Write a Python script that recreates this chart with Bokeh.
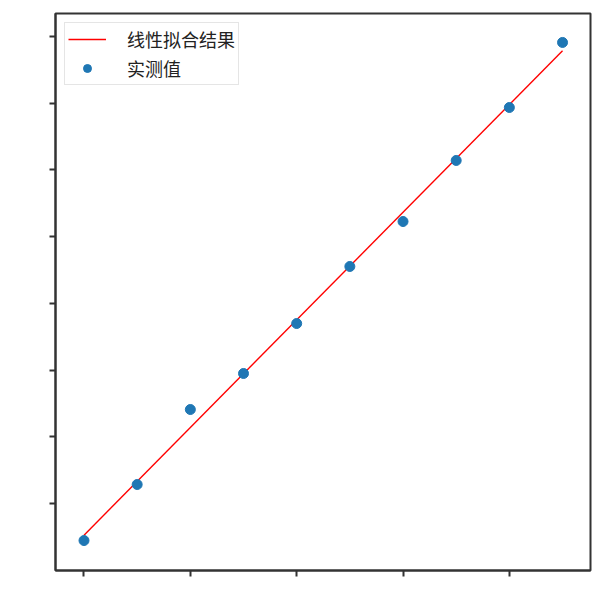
import numpy as np
from bokeh.plotting import figure
from bokeh.models import Range1d, FixedTicker, CustomJSTickFormatter, Legend, LegendItem
from bokeh.embed import file_html
from bokeh.resources import INLINE

# data
x_values = [0, 1, 2, 3, 4, 5, 6, 7, 8, 9]
y_measured = [-0.555, 0.285, 1.409, 1.949, 2.698, 3.553, 4.227, 5.142, 5.936, 6.911]
x_ticks = [0, 2, 4, 6, 8]
y_ticks = [0, 1, 2, 3, 4, 5, 6, 7]
fit_label = "线性拟合结果"
point_label = "实测值"

# linear fit of the measured values
k, b = np.polyfit(x_values, y_measured, 1)
x_fit = [x_values[0], x_values[-1]]
y_fit = [k * xv + b for xv in x_fit]

p = figure(width=600, height=592, output_backend="svg", toolbar_location=None,
           x_range=Range1d(-0.536, 9.526), y_range=Range1d(-1.004, 7.345),
           min_border_left=55, min_border_top=13, min_border_right=10, min_border_bottom=22)
p.background_fill_color = "white"
p.border_fill_color = "white"
p.outline_line_color = "#333333"
p.outline_line_width = 2
p.xgrid.visible = False
p.ygrid.visible = False

for ax in (p.xaxis, p.yaxis):
    ax.axis_line_color = "#333333"
    ax.axis_line_width = 2
    ax.major_tick_line_color = "#333333"
    ax.major_tick_line_width = 2
    ax.major_tick_out = 6
    ax.major_tick_in = 0
    ax.minor_tick_line_color = None
    ax.formatter = CustomJSTickFormatter(code="return ''")
    ax.major_label_text_font_size = "1px"
p.xaxis.ticker = FixedTicker(ticks=x_ticks)
p.yaxis.ticker = FixedTicker(ticks=y_ticks)

r_line = p.line(x_fit, y_fit, line_color="#ff0000", line_width=1.4)
r_pts = p.scatter(x_values, y_measured, size=10, fill_color="#1f77b4", line_color="#1f77b4")

legend = Legend(items=[LegendItem(label=fit_label, renderers=[r_line]),
                       LegendItem(label=point_label, renderers=[r_pts])],
                location="top_left")
legend.margin = 9
legend.padding = 3
legend.spacing = 3
legend.glyph_width = 38
legend.glyph_height = 20
legend.label_height = 20
legend.label_standoff = 21
legend.label_text_font = "Noto Sans CJK SC"
legend.label_text_font_size = "18px"
legend.label_text_color = "#222222"
legend.border_line_color = "#cccccc"
legend.border_line_width = 1
legend.background_fill_alpha = 0.8
p.add_layout(legend, "center")

open("out.html", "w").write(file_html(p, INLINE))
